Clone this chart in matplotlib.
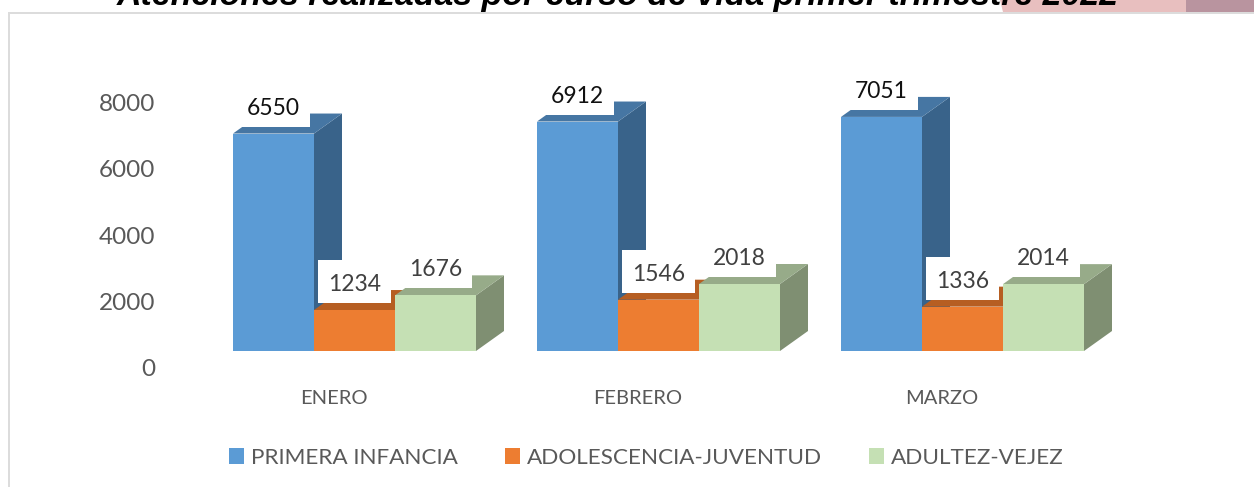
import matplotlib
matplotlib.use('Agg')
import matplotlib.pyplot as plt
from matplotlib.patches import Polygon, Rectangle

plt.rcParams['font.family'] = ['Lato', 'DejaVu Sans']

meses = ['ENERO', 'FEBRERO', 'MARZO']
series = ['PRIMERA INFANCIA', 'ADOLESCENCIA-JUVENTUD', 'ADULTEZ-VEJEZ']
primera = [6550, 6912, 7051]
adolescencia = [1234, 1546, 1336]
adultez = [1676, 2018, 2014]
yticks = [0, 2000, 4000, 6000, 8000]
titulo = 'Atenciones realizadas por curso de vida primer trimestre 2022'

W, H = 1254, 487
PX_Y = 0.0332  # pixeles por unidad
BASE = 351     # pixel de y=0
GROUP = 304
BAR_PX = 81
X0 = 354.5     # centro del primer grupo

frente = ['#5B9BD5', '#ED7D31', '#C5E0B4']
arriba = ['#4676A3', '#B65E22', '#97AB89']
lado = ['#39638A', '#9E5120', '#7F8F72']


def px(x, y):
    return x / W, 1 - y / H


fig = plt.figure(figsize=(W / 100, H / 100), dpi=100)
ax = fig.add_axes([0, 0, 1, 1])
ax.set_xlim(-X0 / GROUP, (W - X0) / GROUP)
ax.set_ylim((BASE - H) / PX_Y, BASE / PX_Y)
ax.axis('off')

bw = BAR_PX / GROUP
dx = 28 / GROUP
dy = 20 / PX_Y
valores = [primera, adolescencia, adultez]

for j, vals in enumerate(valores):
    for i, v in enumerate(vals):
        x1 = i + (j - 1.5) * bw
        x2 = x1 + bw
        ax.add_patch(Polygon([(x2, 0), (x2 + dx, dy), (x2 + dx, v + dy), (x2, v)],
                             fc=lado[j], ec='none', zorder=2 + j))
        ax.add_patch(Polygon([(x1, v), (x1 + dx, v + dy), (x2 + dx, v + dy), (x2, v)],
                             fc=arriba[j], ec='none', zorder=2 + j))
        ax.bar(x1 + bw / 2, v, bw, color=frente[j], zorder=2.5 + j, label=series[j] if i == 0 else None)

# etiquetas de datos con caja blanca
for j, vals in enumerate(valores):
    for i, v in enumerate(vals):
        x = i + (j - 1) * bw
        ax.add_patch(Rectangle((x - 36.5 / GROUP, v + 7 / PX_Y), 73 / GROUP, 43 / PX_Y,
                               fc='white', ec='none', zorder=9))
        ax.annotate(str(v), (x, v), xytext=(0, 25.5 * 0.72), textcoords='offset points',
                    ha='center', va='center', fontsize=16.5, color='#404040' if j else '#111111',
                    zorder=10)

for t in yticks:
    ax.annotate(str(t), (-X0 / GROUP, t), xytext=(155 * 0.72, -19 * 0.72), textcoords='offset points',
                ha='right', va='center', fontsize=17.5, color='#595959')

for i, m in enumerate(meses):
    ax.annotate(m, (i - 0.0675, 0), xytext=(0, -47.5 * 0.72), textcoords='offset points',
                ha='center', va='center', fontsize=14.5, color='#595959')

leg = ax.legend(loc='center left', bbox_to_anchor=px(229, 458), bbox_transform=fig.transFigure,
                ncol=3, frameon=False, fontsize=16.2, borderaxespad=0, borderpad=0,
                handlelength=0.67, handleheight=0.67, handletextpad=0.3, columnspacing=2.09)
for t in leg.get_texts():
    t.set_color('#595959')

# marco y banda de la pagina
fig.add_artist(Polygon([px(1000, 0), px(1186, 0), px(1186, 12), px(1003, 12)],
                       transform=fig.transFigure, fc='#E8BFBF', ec='none'))
fig.add_artist(Rectangle(px(1186, 12), 68 / W, 12 / H, transform=fig.transFigure, fc='#B9949F', ec='none'))
fig.add_artist(Rectangle(px(8, 14), (W - 8) / W, 2 / H, transform=fig.transFigure, fc='#DCDCDC', ec='none'))
fig.add_artist(Rectangle(px(8, H), 2 / W, (H - 12) / H, transform=fig.transFigure, fc='#DCDCDC', ec='none'))

xt, yt = px(618, 5)
fig.text(xt, yt, titulo, ha='center', va='baseline', fontsize=24.4, color='black',
         family='Liberation Sans', weight='bold', style='italic')

plt.savefig('out.png', dpi=100)
